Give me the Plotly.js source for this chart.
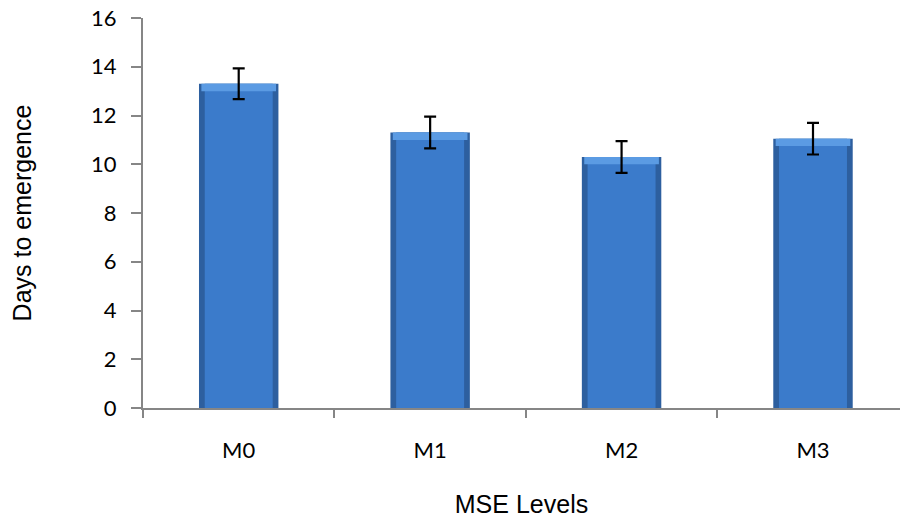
<!DOCTYPE html>
<html>
<head>
<meta charset="utf-8">
<script src="https://cdn.plot.ly/plotly-3.0.1.min.js"></script>
<style>html,body{margin:0;padding:0;background:#fff;overflow:hidden}</style>
</head>
<body>
<div id="chart" style="width:901px;height:520px"></div>
<script>
// Data
const categories = ["M0", "M1", "M2", "M3"];
const daysToEmergence = [13.3, 11.3, 10.3, 11.05];
const errorValues = [0.63, 0.65, 0.65, 0.65];
const yTickValues = [0, 2, 4, 6, 8, 10, 12, 14, 16];

const axisGray = "#868686";

// bevel look: darker outer bar, lighter inner bar, light top band
const outer = {
  type: "bar", x: categories, y: daysToEmergence, width: 0.415,
  marker: {color: "#2d5f9f", line: {width: 0}}, hoverinfo: "skip", showlegend: false
};
const inner = {
  type: "bar", x: categories, y: daysToEmergence, width: 0.355,
  marker: {color: "#3b7bcb", line: {width: 0}}, hoverinfo: "skip", showlegend: false
};
const topBand = {
  type: "bar", x: categories,
  y: daysToEmergence.map(() => 0.3),
  base: daysToEmergence.map(v => v - 0.3),
  width: 0.39,
  marker: {color: "#5b9be3", line: {width: 0}}, hoverinfo: "skip", showlegend: false
};
const errs = {
  type: "scatter", mode: "markers", x: categories, y: daysToEmergence,
  marker: {size: 0.1, color: "rgba(0,0,0,0)"},
  error_y: {type: "data", array: errorValues, visible: true, color: "#000", thickness: 2.2, width: 6},
  hoverinfo: "skip", showlegend: false
};

const layout = {
  width: 901, height: 520,
  margin: {l: 143, r: 1, t: 18, b: 112},
  paper_bgcolor: "#fff", plot_bgcolor: "#fff",
  barmode: "overlay",
  showlegend: false,
  xaxis: {
    type: "category",
    range: [-0.5, 3.4545],
    showline: true, linecolor: axisGray, linewidth: 2,
    ticks: "outside", tickson: "boundaries", ticklen: 8, tickwidth: 2, tickcolor: axisGray,
    showgrid: false, zeroline: false,
    tickfont: {family: "Lato, 'Liberation Sans', Arial, sans-serif", size: 22, color: "#000"},
    ticklabelstandoff: 22,
    title: {text: "MSE Levels", font: {family: "'Liberation Sans', Arial, sans-serif", size: 25, color: "#000"}, standoff: 33},
    automargin: false, fixedrange: true
  },
  yaxis: {
    range: [0, 16], tickvals: yTickValues,
    showline: true, linecolor: axisGray, linewidth: 2,
    ticks: "outside", ticklen: 10, tickwidth: 2, tickcolor: axisGray,
    showgrid: false, zeroline: false,
    tickfont: {family: "Lato, 'Liberation Sans', Arial, sans-serif", size: 22, color: "#000"},
    ticklabelstandoff: 10,
    title: {text: "Days to emergence", font: {family: "'Liberation Sans', Arial, sans-serif", size: 25, color: "#000"}, standoff: 52},
    automargin: false, fixedrange: true
  }
};

Plotly.newPlot("chart", [outer, inner, topBand, errs], layout, {displayModeBar: false, staticPlot: true});
</script>
</body>
</html>
